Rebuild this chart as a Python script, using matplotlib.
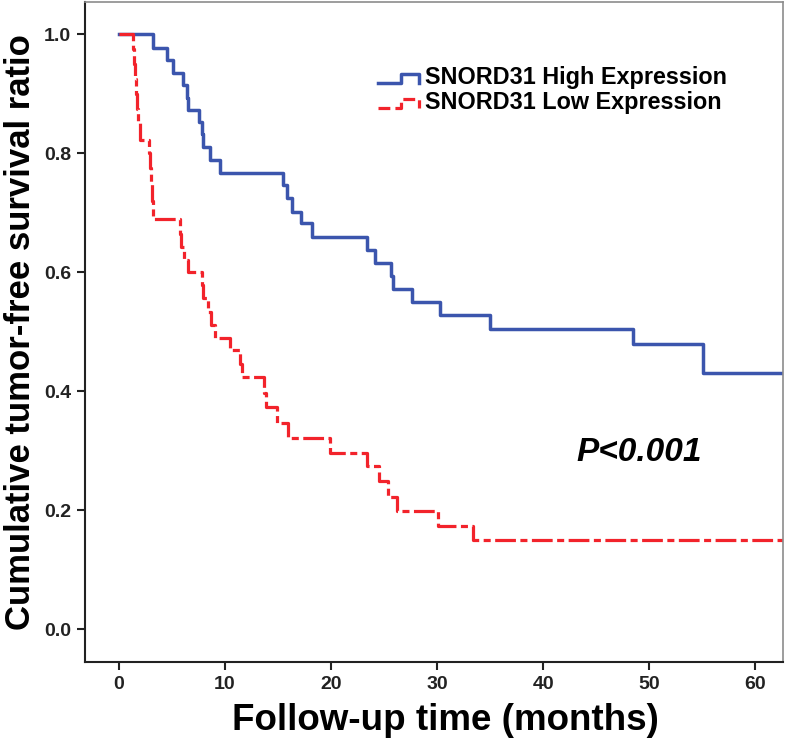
import numpy as np
import matplotlib
matplotlib.use("Agg")
import matplotlib.pyplot as plt
from matplotlib.lines import Line2D
from matplotlib.legend_handler import HandlerBase

plt.rcParams["font.family"] = ["Liberation Sans", "DejaVu Sans"]

# dati (curve di Kaplan-Meier)
high_t = [0, 3.2, 4.5, 5.1, 6.0, 6.4, 6.5, 7.5, 7.8, 7.9, 8.6, 9.5,
          15.5, 15.8, 16.3, 17.2, 18.2, 23.4, 24.1, 25.6, 25.8, 27.6,
          30.3, 35.0, 48.5, 55.1]
high_s = [1.0, 0.977, 0.956, 0.934, 0.914, 0.893, 0.872, 0.853, 0.832, 0.810, 0.788, 0.766,
          0.746, 0.724, 0.701, 0.682, 0.659, 0.638, 0.616, 0.593, 0.571, 0.550,
          0.528, 0.505, 0.479, 0.431]

low_t = [0, 1.3, 1.4, 1.5, 1.6, 1.7, 1.8, 2.0, 2.8, 2.9, 3.0, 3.1, 3.2,
         5.75, 5.85, 6.1, 6.5, 7.8, 7.9, 8.4, 8.7, 9.1, 10.5, 11.4, 11.6,
         13.7, 13.85, 14.9, 15.9, 19.9, 23.4, 24.5, 25.4, 26.2, 30.1, 33.4]
low_s = [1.0, 0.975, 0.95, 0.925, 0.90, 0.875, 0.85, 0.822, 0.80, 0.775, 0.75, 0.72, 0.69,
         0.665, 0.643, 0.62, 0.60, 0.578, 0.556, 0.533, 0.511, 0.489, 0.469, 0.446, 0.424,
         0.397, 0.374, 0.346, 0.322, 0.297, 0.275, 0.249, 0.222, 0.198, 0.173, 0.150]

fine_followup = 64
labels = ["SNORD31 High Expression", "SNORD31 Low Expression"]
p_text = "P<0.001"

blu = "#3b55ad"
rosso = "#f2232b"


class StepHandler(HandlerBase):
    # simbolo della legenda a gradino come in SPSS
    def create_artists(self, legend, orig_handle, xdescent, ydescent,
                       width, height, fontsize, trans):
        x0 = -xdescent
        y0 = -ydescent + height * 0.05
        y1 = -ydescent + height * 0.6
        xs = [x0, x0 + width * 0.55, x0 + width * 0.55, x0 + width, x0 + width]
        ys = [y0, y0, y1, y1, y0]
        ln = Line2D(xs, ys, color=orig_handle.get_color(),
                    linewidth=orig_handle.get_linewidth(),
                    linestyle=orig_handle.get_linestyle())
        ln.set_transform(trans)
        return [ln]


fig = plt.figure(figsize=(7.87, 7.46), dpi=100)
ax = fig.add_axes([0.108, 0.1126, 0.887, 0.8847])

ht = high_t + [fine_followup]
hs = high_s + [high_s[-1]]
lt = low_t + [fine_followup]
ls = low_s + [low_s[-1]]

l1, = ax.step(ht, hs, where="post", color=blu, lw=2.5, label=labels[0])
l2, = ax.step(lt, ls, where="post", color=rosso, lw=2.3, label=labels[1],
              dashes=(6.5, 1.4, 2.2, 1.4))

ax.set_xlim(-3.2, 62.6)
ax.set_ylim(-0.055, 1.054)
ax.set_xticks(np.arange(0, 61, 10))
ax.set_yticks(np.arange(0, 1.01, 0.2))
ax.set_yticklabels(["%.1f" % v for v in np.arange(0, 1.01, 0.2)])

for lab in ax.get_xticklabels() + ax.get_yticklabels():
    lab.set_fontweight("bold")
    lab.set_fontsize(14)
    lab.set_color("#222222")

ax.tick_params(direction="out", length=6, width=1.5, color="#222222", pad=4)

for s in ["left", "bottom"]:
    ax.spines[s].set_linewidth(1.5)
    ax.spines[s].set_color("#222222")
for s in ["top", "right"]:
    ax.spines[s].set_linewidth(1.2)
    ax.spines[s].set_color("#8c8c8c")

ax.set_xlabel("Follow-up time (months)", fontsize=26.5, fontweight="bold", labelpad=5)
ax.xaxis.set_label_coords(0.516, -0.062)
ax.set_ylabel("Cumulative tumor-free survival ratio", fontsize=25, fontweight="bold", labelpad=5)

ax.text(49.0, 0.297, p_text, fontsize=24, fontweight="bold", style="italic",
        ha="center", va="center")

leg = ax.legend(handles=[l1, l2], loc="upper left", bbox_to_anchor=(0.39, 0.935),
                frameon=False, handlelength=1.75, handletextpad=0.25,
                labelspacing=0.1, prop={"size": 16.8, "weight": "bold"},
                handler_map={Line2D: StepHandler()})

fig.savefig("out.png", dpi=100)
